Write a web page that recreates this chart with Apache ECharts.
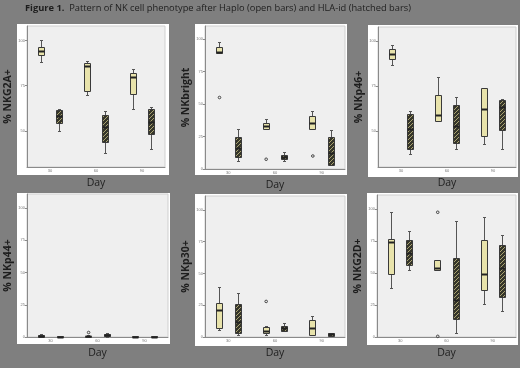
<!DOCTYPE html>
<html>
<head>
<meta charset="utf-8">
<script src="https://cdn.jsdelivr.net/npm/echarts@6/dist/echarts.min.js"></script>
<style>
  html, body { margin: 0; padding: 0; background: #7f7f7f; }
  #chart-container { width: 520px; height: 368px; }
</style>
</head>
<body>
<div id="chart-container"></div>
<script>
(function () {

    const days = ['30', '60', '90'];

    // box stats per day: [min, q1, median, q3, max]
    const nkg2aHaplo = [[88, 92, 94, 96.5, 100], [70, 72, 86, 87.5, 88.5], [62, 70.5, 80, 82, 84]];
    const nkg2aHla = [[50, 54.5, 58, 61.5, 62], [38, 44, 52, 59, 61], [40, 48, 55, 62, 63]];
    const nkbrightHaplo = [[89, 89, 90, 93.5, 97.5], [30.5, 30.5, 33, 35.5, 38.5], [31, 31, 35.5, 40.5, 45]];
    const nkbrightHla = [[6.5, 9.5, 16, 24.5, 31], [6, 7.5, 9, 11, 13], [3, 3, 12, 25, 30]];
    const nkp46Haplo = [[87, 90, 93, 96, 98], [55.5, 55.5, 59, 70, 80], [43, 47, 62.5, 74, 74]];
    const nkp46Hla = [[37, 40, 51, 59.5, 61], [40, 43.5, 53, 64.5, 69], [40, 50.5, 63.5, 67.5, 68]];
    const nkp44Haplo = [[0, 0.3, 0.8, 1.5, 2.5], [0, 0.2, 0.4, 0.8, 1.2], [0, 0.1, 0.3, 0.6, 0.8]];
    const nkp44Hla = [[0, 0.1, 0.3, 0.5, 0.8], [0.3, 0.8, 1.5, 2.2, 3], [0, 0.1, 0.3, 0.5, 0.8]];
    const nkp30Haplo = [[5.5, 7, 21, 26.5, 39], [1.5, 3, 5, 8, 8.5], [1.5, 1.5, 7, 13.5, 16.5]];
    const nkp30Hla = [[1.5, 3.5, 12, 26, 35], [5, 5, 7, 9, 11], [0.5, 1, 2, 3, 3.5]];
    const nkg2dHaplo = [[38, 49, 74.5, 76.5, 97.5], [52, 52, 54, 60, 60], [26, 37, 49, 76, 94]];
    const nkg2dHla = [[52, 56.5, 66, 75.5, 82.5], [3, 14, 29, 61.5, 91], [20.5, 31.5, 54, 72, 80]];

    // outliers: [day index, value]
    const nkbrightHaploOut = [[0, 55], [1, 7.5], [2, 10]];
    const nkp44HaploOut = [[1, 3.5]];
    const nkp30HaploOut = [[1, 28]];
    const nkg2dHaploOut = [[1, 97.5], [1, 0.5]];

    const ticksHigh = [50, 75, 100];
    const ticksFull = [0, 25, 50, 75, 100];

    const panels = [
        { name: '% NKG2A+', haplo: nkg2aHaplo, hla: nkg2aHla, out: [], min: 30, max: 108, ticks: ticksHigh },
        { name: '% NKbright', haplo: nkbrightHaplo, hla: nkbrightHla, out: nkbrightHaploOut, min: 0, max: 110, ticks: ticksFull },
        { name: '% NKp46+', haplo: nkp46Haplo, hla: nkp46Hla, out: [], min: 30, max: 108, ticks: ticksHigh },
        { name: '% NKp44+', haplo: nkp44Haplo, hla: nkp44Hla, out: nkp44HaploOut, min: 0, max: 111, ticks: ticksFull },
        { name: '% NKp30+', haplo: nkp30Haplo, hla: nkp30Hla, out: nkp30HaploOut, min: 0, max: 111, ticks: ticksFull },
        { name: '% NKG2D+', haplo: nkg2dHaplo, hla: nkg2dHla, out: nkg2dHaploOut, min: 0, max: 111, ticks: ticksFull }
    ];

    // layout: plot area and white frame of each panel
    const plots = [
        { left: 27, top: 26, width: 138, height: 141 },
        { left: 205, top: 26, width: 140, height: 143 },
        { left: 378, top: 27, width: 138, height: 140 },
        { left: 27, top: 194, width: 141, height: 143 },
        { left: 205, top: 196, width: 140, height: 141 },
        { left: 377, top: 195, width: 139, height: 142 }
    ];
    const frames = [
        [17, 24, 152, 151], [195, 24, 152, 151], [368, 25, 150, 152],
        [17, 193, 153, 151], [195, 194, 152, 152], [367, 193, 151, 152]
    ];

    const openFill = '#e8e3ab';
    const edge = '#3a3a3a';

    function makeHatch() {
        const c = document.createElement('canvas');
        c.width = 4; c.height = 4;
        const g = c.getContext('2d');
        g.fillStyle = '#35352a';
        g.fillRect(0, 0, 4, 4);
        g.strokeStyle = '#a9a371';
        g.lineWidth = 1;
        g.beginPath();
        g.moveTo(0, 4); g.lineTo(4, 0);
        g.moveTo(-1, 1); g.lineTo(1, -1);
        g.moveTo(3, 5); g.lineTo(5, 3);
        g.stroke();
        return c;
    }
    const hatchFill = { image: makeHatch(), repeat: 'repeat' };

    function boxRenderer(side, fill) {
        return function (params, api) {
            const d = api.value(0);
            const band = api.size([1, 0])[0];
            const cx = Math.round(api.coord([d, 0])[0] + side * band * 0.2) + 0.5;
            const y = [1, 2, 3, 4, 5].map(function (i) { return Math.round(api.coord([d, api.value(i)])[1]) + 0.5; });
            const hw = 3;
            const cap = 1.5;
            const line = { stroke: '#555', lineWidth: 1 };
            return {
                type: 'group',
                children: [
                    { type: 'line', shape: { x1: cx, y1: y[4], x2: cx, y2: y[3] }, style: line },
                    { type: 'line', shape: { x1: cx, y1: y[1], x2: cx, y2: y[0] }, style: line },
                    { type: 'line', shape: { x1: cx - cap, y1: y[4], x2: cx + cap, y2: y[4] }, style: line },
                    { type: 'line', shape: { x1: cx - cap, y1: y[0], x2: cx + cap, y2: y[0] }, style: line },
                    { type: 'rect', shape: { x: cx - hw, y: y[3], width: hw * 2, height: Math.max(y[1] - y[3], 1) },
                      style: { fill: fill, stroke: edge, lineWidth: 1 } },
                    { type: 'line', shape: { x1: cx - hw, y1: y[2], x2: cx + hw, y2: y[2] },
                      style: { stroke: '#222', lineWidth: 2 } }
                ]
            };
        };
    }

    function outlierRenderer(side) {
        return function (params, api) {
            const d = api.value(0);
            const band = api.size([1, 0])[0];
            const p = api.coord([d, api.value(1)]);
            return {
                type: 'circle',
                shape: { cx: p[0] + side * band * 0.2 + 0.5, cy: p[1], r: 1.3 },
                style: { fill: 'none', stroke: '#444', lineWidth: 1 }
            };
        };
    }

    function toRows(stats) {
        return stats.map(function (s, i) { return [i].concat(s); });
    }

    const grids = [], xAxes = [], yAxes = [], series = [];
    panels.forEach(function (p, i) {
        grids.push(Object.assign({
            show: true, backgroundColor: '#efefef', borderColor: '#cfcfcf', borderWidth: 1
        }, plots[i]));
        xAxes.push({
            type: 'category', gridIndex: i, data: days,
            name: 'Day', nameLocation: 'middle', nameGap: 11,
            nameTextStyle: { color: '#1e1e1e', fontSize: 10.5, fontFamily: 'Open Sans' },
            axisLine: { lineStyle: { color: '#8a8a8a' } },
            axisTick: { alignWithLabel: true, length: 3, lineStyle: { color: '#8a8a8a' } },
            axisLabel: { fontSize: 4, color: '#777', margin: 2 }
        });
        yAxes.push({
            type: 'value', gridIndex: i, min: p.min, max: p.max,
            name: p.name, nameLocation: 'middle', nameGap: 13,
            nameTextStyle: { color: '#1e1e1e', fontSize: 10.5, fontWeight: 'bold', fontFamily: 'Open Sans' },
            axisLine: { show: true, lineStyle: { color: '#8a8a8a' } },
            axisTick: { show: true, length: 2, customValues: p.ticks, lineStyle: { color: '#8a8a8a' } },
            axisLabel: { fontSize: 4, color: '#777', margin: 2, customValues: p.ticks },
            splitLine: { show: false }
        });
        series.push({
            type: 'custom', name: 'Haplo', xAxisIndex: i, yAxisIndex: i,
            renderItem: boxRenderer(-1, openFill), encode: { x: 0, y: [1, 2, 3, 4, 5] },
            data: toRows(p.haplo), silent: true
        });
        series.push({
            type: 'custom', name: 'HLA-id', xAxisIndex: i, yAxisIndex: i,
            renderItem: boxRenderer(1, hatchFill), encode: { x: 0, y: [1, 2, 3, 4, 5] },
            data: toRows(p.hla), silent: true
        });
        if (p.out.length) {
            series.push({
                type: 'custom', name: 'Haplo outliers', xAxisIndex: i, yAxisIndex: i,
                renderItem: outlierRenderer(-1), encode: { x: 0, y: 1 },
                data: p.out, silent: true
            });
        }
    });

    const graphics = frames.map(function (f) {
        return { type: 'rect', z: -10, shape: { x: f[0], y: f[1], width: f[2], height: f[3] },
                 style: { fill: '#ffffff' } };
    });
    graphics.push({
        type: 'text', left: 25, top: 4,
        style: {
            text: '{b|Figure 1.}  Pattern of NK cell phenotype after Haplo (open bars) and HLA-id (hatched bars)',
            fontSize: 9.3, fontFamily: 'Open Sans', fill: '#1e1e1e',
            rich: { b: { fontWeight: 'bold', fontSize: 9.3, fontFamily: 'Open Sans', fill: '#1e1e1e' } }
        }
    });

    const chartDom = document.getElementById('chart-container');
    const myChart = echarts.init(chartDom, null, { renderer: 'canvas' });
    myChart.setOption({
        backgroundColor: '#7f7f7f',
        animation: false,
        graphic: { elements: graphics },
        grid: grids,
        xAxis: xAxes,
        yAxis: yAxes,
        series: series
    });
}());
</script>
</body>
</html>
